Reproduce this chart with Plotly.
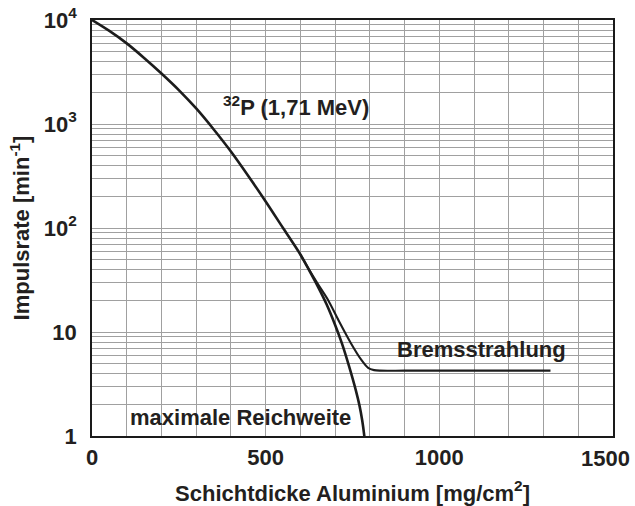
import plotly.graph_objects as go

# Absorption of 32P beta radiation in aluminium (count rate vs. absorber thickness)
thickness_main = [0, 50, 100, 150, 200, 250, 300, 350, 400, 450, 500, 550, 600,
                  625, 650, 675, 700, 720, 740, 760, 770, 778, 784, 790]
rate_main = [10000, 7850, 5960, 4320, 3060, 2120, 1410, 890, 543, 316, 180, 100, 55.6,
             39.4, 27.5, 18.6, 11.7, 7.7, 4.7, 2.72, 1.97, 1.41, 1.0, 0.63]

# Branch including the bremsstrahlung background
thickness_brems = [600, 625, 650, 680, 710, 745, 775, 795, 812, 830, 900, 1100, 1320]
rate_brems = [55.6, 39.8, 29.0, 20.2, 12.9, 7.85, 5.42, 4.52, 4.3, 4.25, 4.25, 4.25, 4.25]

x_ticks = [0, 500, 1000, 1500]
# the last label is drawn separately, nudged left so it stays inside the page
x_ticktext = ["0", "500", "1000", ""]
x_last_label = "1500"
y_ticks = [1, 10, 100, 1000, 10000]
y_ticktext = ["1", "10", "10<sup>2</sup>", "10<sup>3</sup>", "10<sup>4</sup>"]
y_minor = [m * 10 ** k for k in range(4) for m in range(2, 10)]

FONT = "Liberation Sans, Arial, Helvetica, sans-serif"
INK = "#231f20"
GRID = "#a0a0a0"
SIZE = 22

fig = go.Figure()
fig.add_trace(go.Scatter(
    x=thickness_brems, y=rate_brems, mode="lines",
    line=dict(color="#1c1c1c", width=2.1, shape="spline", smoothing=0.8),
    hoverinfo="skip", showlegend=False,
))
fig.add_trace(go.Scatter(
    x=thickness_main, y=rate_main, mode="lines",
    line=dict(color="#1c1c1c", width=2.6, shape="spline", smoothing=0.8),
    hoverinfo="skip", showlegend=False,
))

label_font = dict(family=FONT, size=SIZE, color=INK, weight="bold")
fig.add_annotation(x=371, y=3.17, xref="x", yref="y", text="<sup>32</sup>P (1,71 MeV)",
                   showarrow=False, xanchor="left", yanchor="middle", font=label_font)
fig.add_annotation(x=872, y=0.83, xref="x", yref="y", text="Bremsstrahlung",
                   showarrow=False, xanchor="left", yanchor="middle", font=label_font)
fig.add_annotation(x=104, y=0.18, xref="x", yref="y", text="maximale Reichweite",
                   showarrow=False, xanchor="left", yanchor="middle", font=label_font)
fig.add_annotation(x=x_ticks[-1], y=0, xref="x", yref="paper", text=x_last_label,
                   showarrow=False, xanchor="center", yanchor="top",
                   xshift=-8, yshift=-8, font=label_font)

fig.update_layout(
    width=635, height=506,
    margin=dict(l=92, r=22, t=20, b=70),
    paper_bgcolor="white", plot_bgcolor="white",
    font=dict(family=FONT, size=SIZE, color=INK, weight="bold"),
)
fig.update_xaxes(
    range=[0, 1500], tickmode="array", tickvals=x_ticks, ticktext=x_ticktext,
    automargin=False,
    showgrid=True, gridcolor=GRID, gridwidth=1,
    minor=dict(dtick=100, showgrid=True, gridcolor=GRID, gridwidth=1),
    showline=True, linecolor="#1a1a1a", linewidth=1.8, mirror=True,
    ticks="", zeroline=False, ticklabelstandoff=1,
    tickfont=dict(family=FONT, size=SIZE, color=INK, weight="bold"),
    title=dict(text="Schichtdicke Aluminium [mg/cm<sup>2</sup>]", standoff=16,
               font=dict(family=FONT, size=SIZE, color=INK, weight="bold")),
)
fig.update_yaxes(
    type="log", range=[0, 4], tickmode="array", tickvals=y_ticks, ticktext=y_ticktext,
    automargin=False,
    showgrid=True, gridcolor=GRID, gridwidth=1,
    minor=dict(tickmode="array", tickvals=y_minor, showgrid=True, gridcolor=GRID, gridwidth=1),
    showline=True, linecolor="#1a1a1a", linewidth=1.8, mirror=True,
    ticks="", zeroline=False, ticklabelstandoff=9, ticklabeloverflow="allow",
    tickfont=dict(family=FONT, size=SIZE, color=INK, weight="bold"),
    title=dict(text="Impulsrate [min<sup>-1</sup>]", standoff=8,
               font=dict(family=FONT, size=SIZE, color=INK, weight="bold")),
)

fig.write_html("out.html")
